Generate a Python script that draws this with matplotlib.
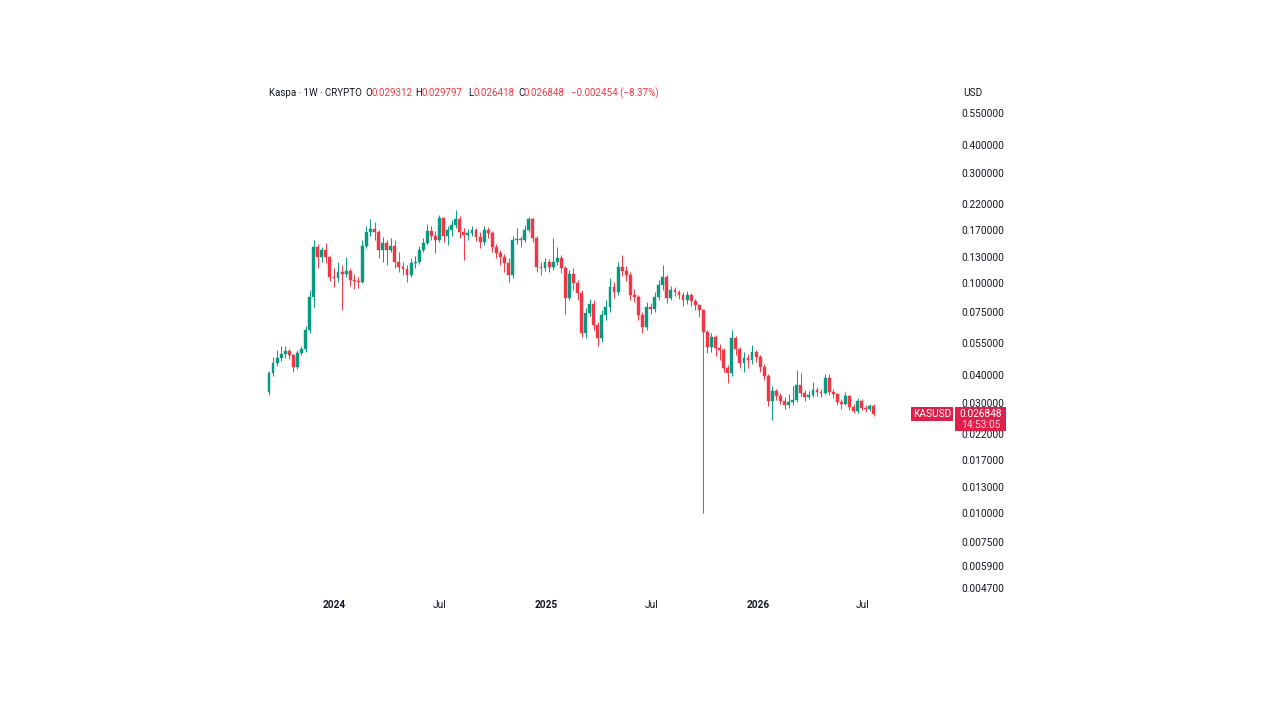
import matplotlib
matplotlib.use("Agg")
import matplotlib.pyplot as plt
import matplotlib.dates as mdates
from matplotlib.patches import Rectangle
import numpy as np
import pandas as pd

# ---------------- data ----------------
first_open = 0.0335
closes = [
    0.0406, 0.0449, 0.0472, 0.0491, 0.0506, 0.0486, 0.0431, 0.0496, 0.0516, 0.0624,
    0.0869, 0.1434, 0.1297, 0.1391, 0.1297, 0.1062, 0.1051, 0.1116, 0.1094, 0.1128,
    0.1030, 0.1020, 0.1010, 0.1448, 0.1666, 0.1717, 0.1666, 0.1391, 0.1492, 0.1391,
    0.1448, 0.1234, 0.1174, 0.1150, 0.1083, 0.1221, 0.1234, 0.1391, 0.1492, 0.1683,
    0.1601, 0.1538, 0.1916, 0.1601, 0.1700, 0.1787, 0.1897, 0.1666, 0.1617, 0.1650,
    0.1700, 0.1585, 0.1507, 0.1700, 0.1650, 0.1434, 0.1350, 0.1297, 0.1221, 0.1083,
    0.1538, 0.1553, 0.1538, 0.1700, 0.1897, 0.1569, 0.1174, 0.1162, 0.1234, 0.1174,
    0.1234, 0.1284, 0.1162, 0.0861, 0.1094, 0.1000, 0.0905, 0.0606, 0.0741, 0.0810,
    0.0657, 0.0576, 0.0726, 0.0787, 0.0961, 0.0914, 0.1174, 0.1128, 0.1083, 0.0887,
    0.0869, 0.0726, 0.0644, 0.0787, 0.0771, 0.0869, 0.0980, 0.1062, 0.0861, 0.0932,
    0.0914, 0.0887, 0.0843, 0.0887, 0.0835, 0.0802, 0.0763, 0.0612, 0.0527, 0.0582,
    0.0521, 0.0511, 0.0427, 0.0406, 0.0576, 0.0516, 0.0449, 0.0472, 0.0462, 0.0501,
    0.0477, 0.0431, 0.0394, 0.0307, 0.0339, 0.0322, 0.0307, 0.0295, 0.0303, 0.0310,
    0.0360, 0.0332, 0.0319, 0.0326, 0.0342, 0.0336, 0.0332, 0.0386, 0.0336, 0.0329,
    0.0303, 0.0297, 0.0322, 0.0289, 0.0277, 0.0307, 0.0286, 0.0283, 0.029312, 0.026848,
]
highs = [
    0.0414, 0.0477, 0.0511, 0.0532, 0.0532, 0.0516, 0.0491, 0.0511, 0.0532, 0.0650,
    0.0932, 0.1538, 0.1477, 0.1434, 0.1492, 0.1310, 0.1162, 0.1234, 0.1197, 0.1297,
    0.1162, 0.1094, 0.1062, 0.1538, 0.1769, 0.1897, 0.1841, 0.1700, 0.1585, 0.1538,
    0.1569, 0.1538, 0.1364, 0.1234, 0.1197, 0.1284, 0.1310, 0.1448, 0.1569, 0.1805,
    0.1769, 0.1683, 0.1975, 0.1936, 0.1769, 0.1879, 0.2077, 0.1955, 0.1734, 0.1717,
    0.1769, 0.1734, 0.1666, 0.1769, 0.1751, 0.1683, 0.1477, 0.1391, 0.1337, 0.1284,
    0.1601, 0.1734, 0.1601, 0.1787, 0.1936, 0.1916, 0.1601, 0.1234, 0.1284, 0.1271,
    0.1569, 0.1434, 0.1323, 0.1185, 0.1139, 0.1162, 0.1030, 0.0932, 0.0779, 0.0852,
    0.0843, 0.0677, 0.0763, 0.0843, 0.1051, 0.1010, 0.1234, 0.1323, 0.1185, 0.1116,
    0.0942, 0.0887, 0.0748, 0.0827, 0.0819, 0.0914, 0.1030, 0.1197, 0.1083, 0.0970,
    0.0961, 0.0932, 0.0914, 0.0923, 0.0905, 0.0852, 0.0810, 0.0771, 0.0624, 0.0606,
    0.0594, 0.0543, 0.0521, 0.0440, 0.0624, 0.0588, 0.0527, 0.0501, 0.0491, 0.0537,
    0.0511, 0.0486, 0.0444, 0.0402, 0.0357, 0.0346, 0.0332, 0.0319, 0.0329, 0.0357,
    0.0418, 0.0406, 0.0342, 0.0339, 0.0371, 0.0353, 0.0346, 0.0402, 0.0402, 0.0346,
    0.0332, 0.0313, 0.0336, 0.0326, 0.0297, 0.0316, 0.0313, 0.0295, 0.0298, 0.029797,
]
lows = [
    0.0326, 0.0394, 0.0436, 0.0458, 0.0472, 0.0467, 0.0410, 0.0423, 0.0486, 0.0501,
    0.0606, 0.0787, 0.1162, 0.1234, 0.1221, 0.1020, 0.0961, 0.1010, 0.0763, 0.1062,
    0.0970, 0.0942, 0.0951, 0.1000, 0.1420, 0.1601, 0.1538, 0.1284, 0.1234, 0.1197,
    0.1364, 0.1162, 0.1116, 0.1083, 0.1010, 0.1062, 0.1162, 0.1209, 0.1364, 0.1477,
    0.1538, 0.1350, 0.1507, 0.1507, 0.1463, 0.1601, 0.1734, 0.1569, 0.1259, 0.1538,
    0.1601, 0.1523, 0.1420, 0.1463, 0.1569, 0.1364, 0.1284, 0.1197, 0.1116, 0.1010,
    0.1051, 0.1477, 0.1434, 0.1507, 0.1666, 0.1507, 0.1116, 0.1083, 0.1128, 0.1116,
    0.1139, 0.1197, 0.1105, 0.0733, 0.0843, 0.0932, 0.0843, 0.0582, 0.0576, 0.0719,
    0.0624, 0.0532, 0.0554, 0.0690, 0.0748, 0.0861, 0.0887, 0.1073, 0.1020, 0.0843,
    0.0827, 0.0690, 0.0606, 0.0624, 0.0733, 0.0748, 0.0843, 0.0932, 0.0819, 0.0843,
    0.0878, 0.0852, 0.0794, 0.0810, 0.0794, 0.0763, 0.0712, 0.0100, 0.0496, 0.0501,
    0.0481, 0.0462, 0.0410, 0.0367, 0.0394, 0.0486, 0.0427, 0.0410, 0.0427, 0.0444,
    0.0453, 0.0410, 0.0379, 0.0292, 0.0254, 0.0310, 0.0297, 0.0283, 0.0286, 0.0295,
    0.0303, 0.0322, 0.0307, 0.0313, 0.0319, 0.0322, 0.0319, 0.0329, 0.0326, 0.0316,
    0.0295, 0.0283, 0.0295, 0.0280, 0.0272, 0.0272, 0.0280, 0.0275, 0.0279, 0.026418,
]
opens = [first_open] + closes[:-1]
last_date = "2026-07-20"
dates = pd.date_range(end=last_date, periods=len(closes), freq="7D")

price_ticks = [0.55, 0.4, 0.3, 0.22, 0.17, 0.13, 0.1, 0.075, 0.055, 0.04,
               0.03, 0.022, 0.017, 0.013, 0.01, 0.0075, 0.0059, 0.0047]
x_tick_dates = ["2024-01-01", "2024-07-01", "2025-01-01", "2025-07-01", "2026-01-01", "2026-07-01"]
x_tick_labels = ["2024", "Jul", "2025", "Jul", "2026", "Jul"]

header_o, header_h, header_l, header_c = "0.029312", "0.029797", "0.026418", "0.026848"
header_chg = "\u22120.002454 (\u22128.37%)"
countdown = "14:53:05"

# ---------------- style ----------------
UP = "#089981"
DOWN = "#F23645"
TXT = "#131722"
FONT = ["Roboto", "DejaVu Sans"]
plt.rcParams["font.family"] = FONT
FS = 7.3
FSH = 7.0

W, H = 1280, 720
fig = plt.figure(figsize=(12.8, 7.2), dpi=100, facecolor="white")

ax_left, ax_right, ax_top, ax_bottom = 258, 955, 100, 595
ax = fig.add_axes([ax_left / W, 1 - ax_bottom / H, (ax_right - ax_left) / W, (ax_bottom - ax_top) / H])
ax.set_facecolor("white")
ax.set_yscale("log")

xd = mdates.date2num(dates)
o = np.array(opens); c = np.array(closes)
hi = np.maximum(np.array(highs), np.maximum(o, c))
lo = np.minimum(np.array(lows), np.minimum(o, c))
up = c >= o
cols = np.where(up, UP, DOWN)

ax.vlines(xd, lo, hi, colors=cols, linewidth=0.7, zorder=2)
body_bot = np.minimum(o, c)
body_h = np.maximum(np.abs(c - o), body_bot * 0.006)
ax.bar(xd, body_h, bottom=body_bot, width=4.9, color=cols, edgecolor=cols, linewidth=0.3, zorder=3)

ref = mdates.date2num(pd.Timestamp("2024-01-01"))
ax.set_xlim(ref - 131, ref + 1071)
ax.set_ylim(0.0044, 0.6247)

for s in ax.spines.values():
    s.set_visible(False)

ax.yaxis.tick_right()
ax.set_yticks(price_ticks)
ax.set_yticklabels([f"{v:.6f}" for v in price_ticks])
ax.yaxis.set_minor_locator(matplotlib.ticker.NullLocator())
ax.tick_params(axis="y", length=0, pad=4.3, labelsize=FS, labelcolor=TXT)

ax.set_xticks(mdates.date2num(pd.to_datetime(x_tick_dates)))
ax.set_xticklabels(x_tick_labels)
ax.tick_params(axis="x", length=0, pad=3.6, labelsize=FS, labelcolor=TXT)
for lab, t in zip(ax.get_xticklabels(), x_tick_labels):
    if t != "Jul":
        lab.set_fontweight("bold")

# header
def ftxt(x, y, s, color=TXT, fs=FSH, **kw):
    fig.text(x / W, 1 - y / H, s, color=color, fontsize=fs, va="center", ha="left", **kw)

ftxt(269, 93, "Kaspa \u00b7 1W \u00b7 CRYPTO")
ftxt(365, 93, "O")
ftxt(371, 93, header_o, DOWN)
ftxt(415, 93, "H")
ftxt(421, 93, header_h, DOWN)
ftxt(468, 93, "L")
ftxt(474, 93, header_l, DOWN)
ftxt(518, 93, "C")
ftxt(524, 93, header_c, DOWN)
ftxt(571, 93, header_chg, DOWN)
ftxt(963, 93, "USD", fs=FS)

# last price tag
fig.canvas.draw()
_, ypix = ax.transData.transform((xd[-1], closes[-1]))
yc = H - ypix  # from top
TAG = "#E0204A"
fig.patches.append(Rectangle((911 / W, 1 - (yc + 7) / H), 42 / W, 14 / H,
                             transform=fig.transFigure, facecolor=TAG, edgecolor="none"))
fig.patches.append(Rectangle((955 / W, 1 - (yc + 17) / H), 51 / W, 24 / H,
                             transform=fig.transFigure, facecolor=TAG, edgecolor="none"))
fig.text(932 / W, 1 - yc / H, "KASUSD", color="white", fontsize=FS, ha="center", va="center")
fig.text(980.5 / W, 1 - yc / H, f"{closes[-1]:.6f}", color="white", fontsize=FS, ha="center", va="center")
fig.text(980.5 / W, 1 - (yc + 11) / H, countdown, color="#ffd0da", fontsize=FS, ha="center", va="center")

fig.savefig("out.png", dpi=100, facecolor="white")
